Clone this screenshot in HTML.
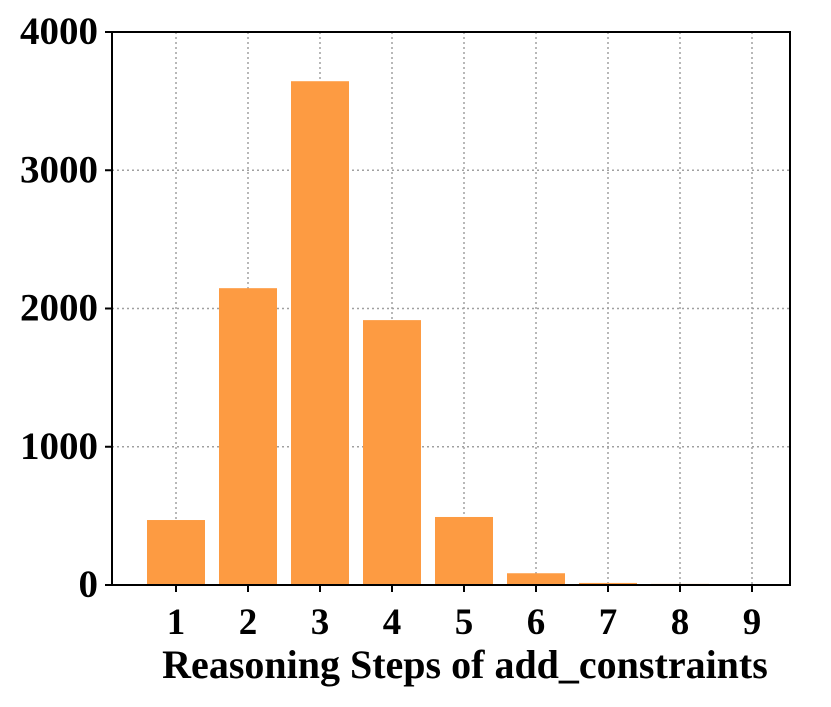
<!DOCTYPE html>
<html><head><meta charset="utf-8"><style>
html,body{margin:0;padding:0;background:#fff;}
svg text{font-family:"Liberation Serif",serif;font-weight:bold;fill:#000;}
</style></head><body>
<svg id="chart" width="831" height="702"></svg>
<script>
const categories = ["1","2","3","4","5","6","7","8","9"];
const values = [470, 2147, 3644, 1916, 492, 85, 15, 8, 2];
const yTicks = [0, 1000, 2000, 3000, 4000];
const xLabel = "Reasoning Steps of add_constraints";

const svg = document.getElementById('chart');
const NS = "http://www.w3.org/2000/svg";
const L = 112, R = 790, T = 32, B = 585;
const yMax = 4000;
const x0 = 176, step = 72, barW = 58;
function xPos(i){ return x0 + i*step; }
function yPos(v){ return B - (v / yMax) * (B - T); }
function mk(tag, attrs){ const e = document.createElementNS(NS, tag); for (const k in attrs) e.setAttribute(k, attrs[k]); svg.appendChild(e); return e; }

yTicks.forEach(t => {
  const y = yPos(t);
  const g = mk('line', {x1:L, x2:R, y1:y, y2:y, stroke:'#a0a0a0', 'stroke-width':1.5, 'stroke-dasharray':'2,3'});
  
  
  const tk = mk('line', {x1:L-7, x2:L, y1:y, y2:y, stroke:'#000', 'stroke-width':2});
  
  
  const lb = mk('text', {x:L-14, y:y+12, 'text-anchor':'end', 'font-size':39});
  lb.textContent = t;
  
  
});
categories.forEach((c, i) => {
  const x = xPos(i);
  const g = mk('line', {x1:x, x2:x, y1:T, y2:B, stroke:'#a0a0a0', 'stroke-width':1.5, 'stroke-dasharray':'2,3'});
  
  
});
values.forEach((v, i) => {
  const y = yPos(v);
  const b = mk('rect', {x:xPos(i)-barW/2, y:y, width:barW, height:B-y, fill:'#fd9b42'});
  
  
});
categories.forEach((c, i) => {
  const x = xPos(i);
  const tk = mk('line', {x1:x, x2:x, y1:B, y2:B+7, stroke:'#000', 'stroke-width':2});
  
  
  const lb = mk('text', {x:x, y:B+49, 'text-anchor':'middle', 'font-size':37});
  lb.textContent = c;
  
  
});
const frame = mk('rect', {x:L, y:T, width:R-L, height:B-T, fill:'none', stroke:'#000', 'stroke-width':2});


const xl = mk('text', {x:465, y:678, 'text-anchor':'middle', 'font-size':40});
xl.textContent = xLabel;


</script>
</body></html>
